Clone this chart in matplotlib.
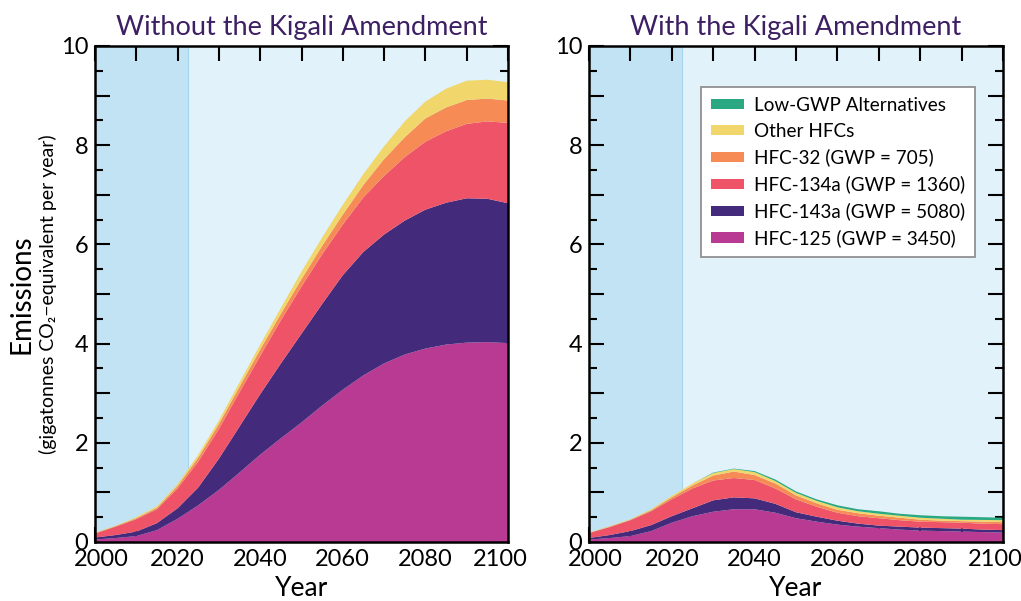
import numpy as np
import matplotlib.pyplot as plt
from matplotlib.ticker import MultipleLocator, FuncFormatter
from matplotlib.patches import Patch
from matplotlib.transforms import ScaledTranslation

plt.rcParams['font.family'] = ['Lato', 'DejaVu Sans']

years = [2000, 2005, 2010, 2015, 2020, 2025, 2030, 2035, 2040, 2045, 2050,
         2055, 2060, 2065, 2070, 2075, 2080, 2085, 2090, 2095, 2100]

# Without Kigali (Gt CO2-eq per year, per gas)
no_hfc125 = [0.05, 0.08, 0.12, 0.24, 0.47, 0.74, 1.05, 1.40, 1.76, 2.09, 2.41,
             2.75, 3.07, 3.36, 3.60, 3.78, 3.90, 3.98, 4.02, 4.03, 4.01]
no_hfc143a = [0.04, 0.06, 0.09, 0.14, 0.21, 0.36, 0.63, 0.93, 1.22, 1.51, 1.79,
              2.05, 2.31, 2.49, 2.60, 2.70, 2.80, 2.86, 2.91, 2.89, 2.82]
no_hfc134a = [0.08, 0.17, 0.25, 0.28, 0.40, 0.52, 0.60, 0.69, 0.77, 0.87, 0.95,
              1.00, 1.02, 1.10, 1.18, 1.28, 1.37, 1.44, 1.50, 1.56, 1.62]
no_hfc32 = [0.01, 0.01, 0.02, 0.03, 0.05, 0.08, 0.10, 0.11, 0.13, 0.13, 0.15,
            0.17, 0.20, 0.25, 0.34, 0.40, 0.47, 0.48, 0.48, 0.46, 0.45]
no_other = [0.01, 0.01, 0.02, 0.03, 0.04, 0.06, 0.07, 0.09, 0.10, 0.12, 0.15,
            0.17, 0.20, 0.22, 0.26, 0.32, 0.34, 0.38, 0.39, 0.38, 0.37]
no_lowgwp = [0.0] * 21

# With Kigali
k_hfc125 = [0.05, 0.08, 0.12, 0.22, 0.39, 0.52, 0.61, 0.66, 0.66, 0.59, 0.48,
            0.41, 0.35, 0.31, 0.28, 0.25, 0.23, 0.22, 0.21, 0.20, 0.19]
k_hfc143a = [0.03, 0.06, 0.10, 0.12, 0.13, 0.16, 0.23, 0.24, 0.22, 0.18, 0.12,
             0.10, 0.08, 0.06, 0.05, 0.06, 0.06, 0.06, 0.06, 0.05, 0.05]
k_hfc134a = [0.10, 0.16, 0.22, 0.28, 0.34, 0.40, 0.40, 0.39, 0.37, 0.31, 0.26,
             0.20, 0.16, 0.15, 0.15, 0.13, 0.12, 0.12, 0.12, 0.12, 0.12]
k_hfc32 = [0.005, 0.01, 0.01, 0.02, 0.04, 0.06, 0.10, 0.13, 0.10, 0.10, 0.08,
           0.07, 0.06, 0.06, 0.05, 0.05, 0.04, 0.03, 0.03, 0.04, 0.04]
k_other = [0.005, 0.01, 0.01, 0.02, 0.03, 0.04, 0.05, 0.05, 0.06, 0.05, 0.05,
           0.05, 0.05, 0.04, 0.04, 0.04, 0.04, 0.04, 0.03, 0.035, 0.04]
k_lowgwp = [0.0, 0.0, 0.0, 0.0, 0.0, 0.0, 0.01, 0.01, 0.02, 0.03, 0.03,
            0.03, 0.04, 0.04, 0.05, 0.04, 0.05, 0.05, 0.06, 0.055, 0.05]

labels = ['HFC-125 (GWP = 3450)', 'HFC-143a (GWP = 5080)', 'HFC-134a (GWP = 1360)',
          'HFC-32 (GWP = 705)', 'Other HFCs', 'Low-GWP Alternatives']
colors = ['#b83a92', '#432a7a', '#ef5368', '#f68b55', '#f0d66b', '#2aa882']
titles = ['Without the Kigali Amendment', 'With the Kigali Amendment']

fig = plt.figure(figsize=(10.21, 6.01), dpi=100)
ax1 = fig.add_axes([95 / 1021, 59 / 601, 413 / 1021, 496 / 601])
ax2 = fig.add_axes([589 / 1021, 59 / 601, 414 / 1021, 496 / 601])

series = [
    [no_hfc125, no_hfc143a, no_hfc134a, no_hfc32, no_other, no_lowgwp],
    [k_hfc125, k_hfc143a, k_hfc134a, k_hfc32, k_other, k_lowgwp],
]

for ax, data, title in zip([ax1, ax2], series, titles):
    ax.set_facecolor('#e1f2fa')
    ax.axvspan(2000, 2022.5, color='#c2e3f4', lw=0, zorder=0)
    ax.axvline(2022.5, color='#a5d6ee', lw=0.8, zorder=0.5)
    ax.stackplot(years, *data, colors=colors, lw=0, zorder=2)
    ax.set_xlim(2000, 2100)
    ax.set_ylim(0, 10)
    ax.set_title(title, fontsize=19.5, color='#3d1f63', pad=8)
    ax.set_xlabel('Year', fontsize=19, labelpad=4)

    ax.xaxis.set_major_locator(MultipleLocator(10))
    ax.xaxis.set_major_formatter(FuncFormatter(
        lambda v, p: f'{int(round(v))}' if round(v) % 20 == 0 else ''))
    ax.yaxis.set_major_locator(MultipleLocator(1))
    ax.yaxis.set_minor_locator(MultipleLocator(0.5))
    ax.yaxis.set_major_formatter(FuncFormatter(
        lambda v, p: f'{int(round(v))}' if round(v) % 2 == 0 else ''))
    ax.tick_params(which='both', direction='in', top=True, right=True,
                   width=1.5, labelsize=17, colors='black')
    ax.tick_params(which='major', length=11, pad=5)
    ax.tick_params(which='minor', length=6)
    ax.tick_params(axis='x', which='minor', bottom=False, top=False)
    for s in ax.spines.values():
        s.set_linewidth(1.8)
        s.set_zorder(5)

fig.text(22 / 1021, 0.51, 'Emissions', rotation=90, fontsize=20,
         ha='center', va='center')
fig.text(48 / 1021, 0.51, '(gigatonnes CO\u2082\u2212equivalent per year)',
         rotation=90, fontsize=14, ha='center', va='center')

handles = [Patch(facecolor=c, edgecolor='none') for c in colors][::-1]
leg = ax2.legend(handles, labels[::-1], loc='upper right',
                 bbox_to_anchor=(0.932, 0.917), fontsize=13.6, frameon=True,
                 fancybox=False, edgecolor='#888888', framealpha=1,
                 handlelength=1.75, handleheight=0.5, labelspacing=0.48,
                 borderpad=0.5, handletextpad=0.55, borderaxespad=0)
leg.get_frame().set_linewidth(1.2)

# nudge end year labels inward like the original
fig.canvas.draw()
for ax in (ax1, ax2):
    for lbl in ax.get_xticklabels():
        if lbl.get_text() == '2000':
            lbl.set_transform(lbl.get_transform() +
                              ScaledTranslation(6 / 100, 0, fig.dpi_scale_trans))
        elif lbl.get_text() == '2100':
            lbl.set_transform(lbl.get_transform() +
                              ScaledTranslation(-8 / 100, 0, fig.dpi_scale_trans))

fig.savefig('out.png', dpi=100)
